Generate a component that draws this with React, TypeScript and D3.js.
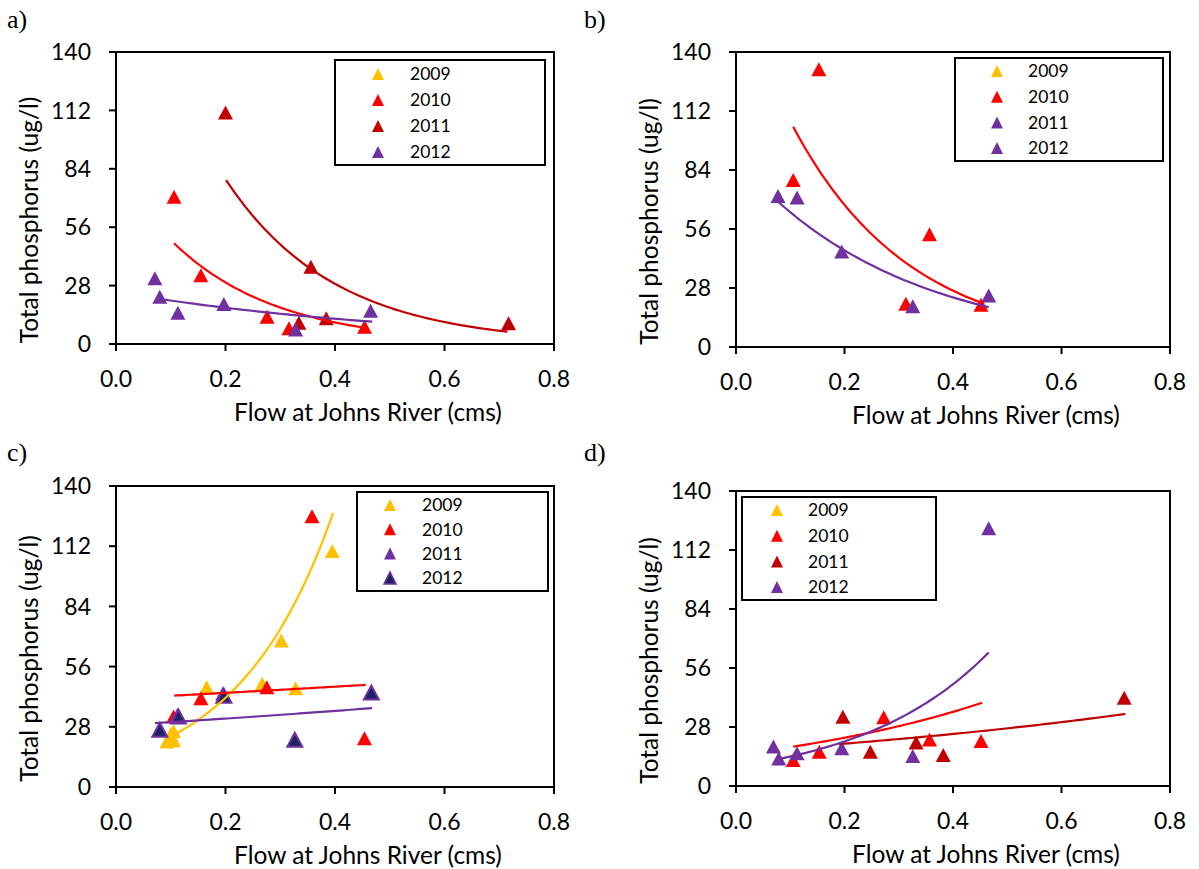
import React from 'react';
import * as d3 from 'd3';

type Pt = [number, number];

const YEARS = ['2009', '2010', '2011', '2012'];
const X_TICKS = [0, 0.2, 0.4, 0.6, 0.8];
const Y_TICKS = [0, 28, 56, 84, 112, 140];
const X_TITLE = 'Flow at Johns River (cms)';
const Y_TITLE = 'Total phosphorus (ug/l)';

// Panel a
const A_2010: Pt[] = [[0.106, 70.6], [0.155, 33], [0.276, 13.1], [0.316, 7.5], [0.454, 8.3]];
const A_2011: Pt[] = [[0.2, 111], [0.356, 37], [0.384, 12.3], [0.334, 10.2], [0.717, 9.9]];
const A_2012: Pt[] = [[0.071, 31.5], [0.08, 22.7], [0.113, 15], [0.197, 19.2], [0.328, 7], [0.465, 16]];
const A_TRENDS = [
  { year: '2010', x0: 0.106, y0: 48.3, x1: 0.454, y1: 7.8 },
  { year: '2011', x0: 0.201, y0: 78.6, x1: 0.715, y1: 5.9 },
  { year: '2012', x0: 0.08, y0: 21.6, x1: 0.468, y1: 10.7 },
];

// Panel b
const B_2010: Pt[] = [[0.1527, 131.8], [0.1055, 79.2], [0.3567, 53.5], [0.313, 20.5], [0.4517, 20.0]];
const B_2012: Pt[] = [[0.0774, 71.7], [0.1126, 70.9], [0.1949, 45.3], [0.3258, 19.3], [0.4658, 24.5]];
const B_TRENDS = [
  { year: '2010', x0: 0.1055, y0: 104.5, x1: 0.4573, y1: 20.5 },
  { year: '2012', x0: 0.0774, y0: 69, x1: 0.4658, y1: 18.9 },
];

// Panel c
const C_2009: Pt[] = [[0.395, 109.8], [0.302, 68.1], [0.1657, 46.4], [0.267, 48.0], [0.328, 45.9], [0.105, 26], [0.1, 24.5], [0.093, 21.2], [0.105, 21.7]];
const C_2010: Pt[] = [[0.358, 125.9], [0.2755, 46.4], [0.155, 41.3], [0.105, 32.8], [0.4538, 22.7]];
const C_2011: Pt[] = [[0.195, 43.5], [0.112, 33.5]];
const C_2012: Pt[] = [[0.08, 26.6], [0.114, 32.8], [0.197, 42.5], [0.3266, 22.0], [0.4664, 43.9]];
const C_TRENDS = [
  { year: '2009', x0: 0.1063, y0: 24.3, x1: 0.3965, y1: 127.5 },
  { year: '2010', x0: 0.1063, y0: 42.5, x1: 0.456, y1: 47.5 },
  { year: '2012', x0: 0.0713, y0: 29.7, x1: 0.4678, y1: 36.7 },
];

// Panel d
const D_2010: Pt[] = [[0.1055, 12.3], [0.1534, 16.3], [0.2723, 32.6], [0.3567, 22.1], [0.4517, 21.4]];
const D_2011: Pt[] = [[0.197, 32.9], [0.2477, 16.3], [0.332, 20.6], [0.382, 14.7], [0.7156, 41.9]];
const D_2012: Pt[] = [[0.4658, 122.3], [0.069, 18.7], [0.0788, 13.1], [0.1126, 15.5], [0.1949, 17.9], [0.3258, 14.2]];
const D_TRENDS = [
  { year: '2010', x0: 0.1055, y0: 18.7, x1: 0.4538, y1: 39.5 },
  { year: '2011', x0: 0.19, y0: 19.9, x1: 0.7177, y1: 34.2 },
  { year: '2012', x0: 0.0844, y0: 13.1, x1: 0.4658, y1: 63.4 },
];

const COLORS: Record<string, string> = {
  '2009': '#FFC000',
  '2010': '#FF0000',
  '2011': '#C00000',
  '2012': '#7030A0',
};
const NAVY = '#1C2263';
const FONT = 'Lato, "Open Sans", sans-serif';

type Style = { fill: string; stroke: string };
const std = (y: string): Style => ({ fill: COLORS[y], stroke: 'none' });

const PANELS = [
  {
    label: 'a)', lx: 7, ly: 28,
    left: 116, right: 554, top: 52, bottom: 344,
    legend: { x0: 335, y0: 60, x1: 545, y1: 165, mx: 378, tx: 410, first: 74, gap: 26 },
    styles: { '2009': std('2009'), '2010': std('2010'), '2011': std('2011'), '2012': std('2012') } as Record<string, Style>,
    series: [{ year: '2010', pts: A_2010 }, { year: '2011', pts: A_2011 }, { year: '2012', pts: A_2012 }],
    trends: A_TRENDS,
    trendColors: { '2010': COLORS['2010'], '2011': COLORS['2011'], '2012': COLORS['2012'] } as Record<string, string>,
  },
  {
    label: 'b)', lx: 584, ly: 28,
    left: 736, right: 1170, top: 52, bottom: 347,
    legend: { x0: 955, y0: 58, x1: 1163, y1: 161, mx: 997, tx: 1028, first: 71, gap: 25.7 },
    styles: { '2009': std('2009'), '2010': std('2010'), '2011': std('2012'), '2012': std('2012') } as Record<string, Style>,
    series: [{ year: '2010', pts: B_2010 }, { year: '2012', pts: B_2012 }],
    trends: B_TRENDS,
    trendColors: { '2010': COLORS['2010'], '2012': COLORS['2012'] } as Record<string, string>,
  },
  {
    label: 'c)', lx: 7, ly: 461,
    left: 116, right: 554, top: 486, bottom: 787,
    legend: { x0: 357, y0: 492, x1: 548, y1: 591, mx: 390, tx: 422, first: 505, gap: 24.3 },
    styles: { '2009': std('2009'), '2010': std('2010'), '2011': std('2012'), '2012': { fill: NAVY, stroke: COLORS['2012'] } } as Record<string, Style>,
    series: [{ year: '2009', pts: C_2009 }, { year: '2010', pts: C_2010 }, { year: '2011', pts: C_2011 }, { year: '2012', pts: C_2012 }],
    trends: C_TRENDS,
    trendColors: { '2009': COLORS['2009'], '2010': COLORS['2010'], '2012': COLORS['2012'] } as Record<string, string>,
  },
  {
    label: 'd)', lx: 584, ly: 461,
    left: 736, right: 1170, top: 491, bottom: 786,
    legend: { x0: 742, y0: 497, x1: 936, y1: 600, mx: 777, tx: 808, first: 510, gap: 25.7 },
    styles: { '2009': std('2009'), '2010': std('2010'), '2011': std('2011'), '2012': std('2012') } as Record<string, Style>,
    series: [{ year: '2010', pts: D_2010 }, { year: '2011', pts: D_2011 }, { year: '2012', pts: D_2012 }],
    trends: D_TRENDS,
    trendColors: { '2010': COLORS['2010'], '2011': COLORS['2011'], '2012': COLORS['2012'] } as Record<string, string>,
  },
];

const tri = (w: number, h: number) => `M0,${-h / 2}L${w / 2},${h / 2}L${-w / 2},${h / 2}Z`;

function Panel({ cfg }: { cfg: (typeof PANELS)[number] }) {
  const x = d3.scaleLinear().domain([0, 0.8]).range([cfg.left, cfg.right]);
  const y = d3.scaleLinear().domain([0, 140]).range([cfg.bottom, cfg.top]);
  const line = d3.line<Pt>().x((d) => x(d[0])).y((d) => y(d[1]));
  const trendPts = (t: { x0: number; y0: number; x1: number; y1: number }): Pt[] =>
    d3.range(0, 61).map((i) => {
      const f = i / 60;
      return [t.x0 + (t.x1 - t.x0) * f, t.y0 * Math.pow(t.y1 / t.y0, f)];
    });
  const cx = (cfg.left + cfg.right) / 2;
  const cy = (cfg.top + cfg.bottom) / 2;
  const lg = cfg.legend;
  const markerPath = tri(15, 14);
  return (
    <g>
      <text x={cfg.lx} y={cfg.ly} fontFamily='"Liberation Serif", "Times New Roman", serif' fontSize={26} fill="#000">
        {cfg.label}
      </text>
      {cfg.series.map((s) => {
        const st = cfg.styles[s.year];
        return (
          <g key={s.year}>
            {s.pts.map((p, i) => (
              <path
                key={i}
                d={markerPath}
                transform={`translate(${x(p[0])},${y(p[1])})`}
                fill={st.fill}
                stroke={st.stroke}
                strokeWidth={st.stroke === 'none' ? 0 : 2}
              />
            ))}
          </g>
        );
      })}
      {cfg.trends.map((t) => (
        <path key={t.year} d={line(trendPts(t)) || ''} fill="none" stroke={cfg.trendColors[t.year]} strokeWidth={2.2} />
      ))}
      <rect x={cfg.left} y={cfg.top} width={cfg.right - cfg.left} height={cfg.bottom - cfg.top} fill="none" stroke="#000" strokeWidth={2} />
      {X_TICKS.map((t) => (
        <g key={t}>
          <line x1={x(t)} x2={x(t)} y1={cfg.bottom} y2={cfg.bottom + 7} stroke="#000" strokeWidth={2} />
          <text x={x(t)} y={cfg.bottom + 43} textAnchor="middle" fontFamily={FONT} fontSize={23} fill="#000">
            {t.toFixed(1)}
          </text>
        </g>
      ))}
      {Y_TICKS.map((t) => (
        <g key={t}>
          <line x1={cfg.left - 7} x2={cfg.left} y1={y(t)} y2={y(t)} stroke="#000" strokeWidth={2} />
          <text x={cfg.left - 25} y={y(t)} dy="0.36em" textAnchor="end" fontFamily={FONT} fontSize={23} fill="#000">
            {t}
          </text>
        </g>
      ))}
      <text x={cx + 33} y={cfg.bottom + 77} textAnchor="middle" fontFamily={FONT} fontSize={24.5} fill="#000">
        {X_TITLE}
      </text>
      <text
        transform={`translate(${cfg.left - 78},${cy + 22}) rotate(-90)`}
        textAnchor="middle"
        fontFamily={FONT}
        fontSize={24.5}
        fill="#000"
      >
        {Y_TITLE}
      </text>
      <rect x={lg.x0} y={lg.y0} width={lg.x1 - lg.x0} height={lg.y1 - lg.y0} fill="#fff" stroke="#000" strokeWidth={2} />
      {YEARS.map((yr, i) => {
        const st = cfg.styles[yr];
        const ry = lg.first + i * lg.gap;
        return (
          <g key={yr}>
            <path
              d={tri(12, 12)}
              transform={`translate(${lg.mx},${ry})`}
              fill={st.fill}
              stroke={st.stroke}
              strokeWidth={st.stroke === 'none' ? 0 : 1.5}
            />
            <text x={lg.tx} y={ry} dy="0.36em" fontFamily={FONT} fontSize={17.5} fill="#000">
              {yr}
            </text>
          </g>
        );
      })}
    </g>
  );
}

export default function App() {
  return (
    <svg
      width={1199}
      height={869}
      style={{ position: 'absolute', left: 0, top: 0, background: '#fff' }}
      xmlns="http://www.w3.org/2000/svg"
    >
      <rect x={0} y={0} width={1199} height={869} fill="#fff" />
      {PANELS.map((p) => (
        <Panel key={p.label} cfg={p} />
      ))}
    </svg>
  );
}
